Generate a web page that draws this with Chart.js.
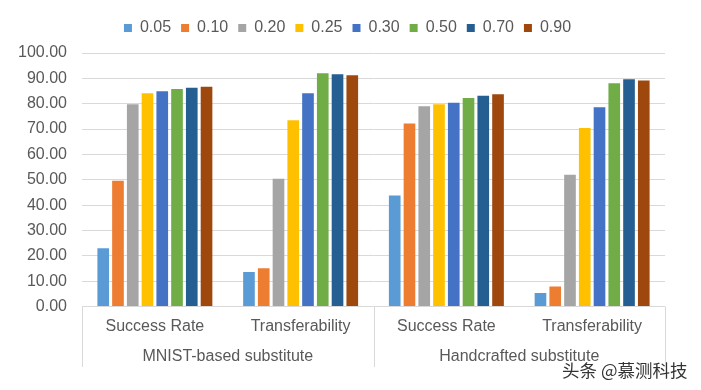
<!DOCTYPE html>
<html>
<head>
<meta charset="utf-8">
<script src="https://cdn.jsdelivr.net/npm/chart.js@4.4.1/dist/chart.umd.min.js"></script>
<style>
    html, body { margin: 0; padding: 0; background: #fff; }
    #wrap { position: relative; width: 701px; height: 390px; }
    #watermark {
        position: absolute; left: 562px; top: 357px;
        font-family: "Noto Sans CJK SC", sans-serif; font-size: 17.5px; color: #333;
        text-shadow: 0 0 2px #fff, 0 0 2px #fff, 0 0 3px #fff;
        white-space: nowrap;
    }
</style>
</head>
<body>
<div id="wrap">
    <canvas id="chart" width="701" height="390"></canvas>
    <div id="watermark">头条 @慕测科技</div>
</div>
<script>
// ============================================================
// Data
// ============================================================
const categories = ['Success Rate', 'Transferability', 'Success Rate', 'Transferability'];
const groupLabels = ['MNIST-based substitute', 'Handcrafted substitute'];
const seriesNames = ['0.05', '0.10', '0.20', '0.25', '0.30', '0.50', '0.70', '0.90'];

const s005 = [23.0, 13.6, 43.8, 5.4];
const s010 = [49.6, 15.1, 72.2, 7.9];
const s020 = [79.8, 50.4, 79.0, 52.0];
const s025 = [84.1, 73.5, 79.8, 70.4];
const s030 = [84.9, 84.1, 80.4, 78.6];
const s050 = [85.8, 92.0, 82.3, 88.1];
const s070 = [86.3, 91.6, 83.1, 89.6];
const s090 = [86.7, 91.2, 83.7, 89.2];

const yTicks = [0, 10, 20, 30, 40, 50, 60, 70, 80, 90, 100];

// Office palette
const COLORS = ['#5B9BD5', '#ED7D31', '#A5A5A5', '#FFC000', '#4472C4', '#70AD47', '#255E91', '#9E480E'];
const TEXT = '#595959';
const GRID = '#D9D9D9';
const FONT = 'Liberation Sans, Arial, sans-serif';

const allSeries = [s005, s010, s020, s025, s030, s050, s070, s090];

// Extra room between legend and plot, and nudge legend right a bit
const legendTweak = {
    id: 'legendTweak',
    beforeInit(chart) {
        const fit = chart.legend.fit;
        chart.legend.fit = function () {
            fit.call(this);
            this.height += 7;
        };
    },
    afterLayout(chart) {
        chart.legend.left += 6;
        chart.legend.right += 6;
    }
};

// Vertical dividers through the two-level category area
const groupDividers = {
    id: 'groupDividers',
    afterDraw(chart) {
        const x2 = chart.scales.x2;
        const area = chart.chartArea;
        const ctx = chart.ctx;
        const mid = (x2.getPixelForTick(0) + x2.getPixelForTick(1)) / 2;
        ctx.save();
        ctx.strokeStyle = GRID;
        ctx.lineWidth = 1;
        [area.left, mid, area.right].forEach(x => {
            const px = Math.round(x) + 0.5;
            ctx.beginPath();
            ctx.moveTo(px, area.bottom);
            ctx.lineTo(px, x2.bottom);
            ctx.stroke();
        });
        ctx.restore();
    }
};

new Chart(document.getElementById('chart').getContext('2d'), {
    type: 'bar',
    data: {
        labels: categories,
        datasets: seriesNames.map((name, i) => ({
            label: name,
            data: allSeries[i],
            backgroundColor: COLORS[i],
            borderWidth: 0,
            barPercentage: 0.79,
            categoryPercentage: 0.81
        }))
    },
    options: {
        responsive: false,
        animation: false,
        layout: { padding: { left: 18, right: 36, top: 10, bottom: 23 } },
        plugins: {
            legend: {
                display: true,
                position: 'top',
                labels: {
                    color: TEXT,
                    font: { family: FONT, size: 16 },
                    boxWidth: 8,
                    boxHeight: 8,
                    padding: 10
                }
            },
            tooltip: { enabled: false }
        },
        scales: {
            x: {
                grid: { display: false, drawTicks: false },
                border: { display: false },
                ticks: { color: TEXT, font: { family: FONT, size: 16 }, padding: 10 }
            },
            x2: {
                axis: 'x',
                type: 'category',
                position: 'bottom',
                labels: groupLabels,
                offset: true,
                grid: { display: false, drawTicks: false },
                border: { display: false },
                ticks: { color: TEXT, font: { family: FONT, size: 16 }, padding: 1 }
            },
            y: {
                min: 0,
                max: 100,
                afterBuildTicks: scale => { scale.ticks = yTicks.map(v => ({ value: v })); },
                afterFit: scale => { scale.width = 64; },
                grid: { color: GRID, drawTicks: false },
                border: { display: false },
                ticks: {
                    color: TEXT,
                    font: { family: FONT, size: 16 },
                    padding: 15,
                    callback: v => v.toFixed(2)
                }
            }
        }
    },
    plugins: [legendTweak, groupDividers]
});
</script>
</body>
</html>
